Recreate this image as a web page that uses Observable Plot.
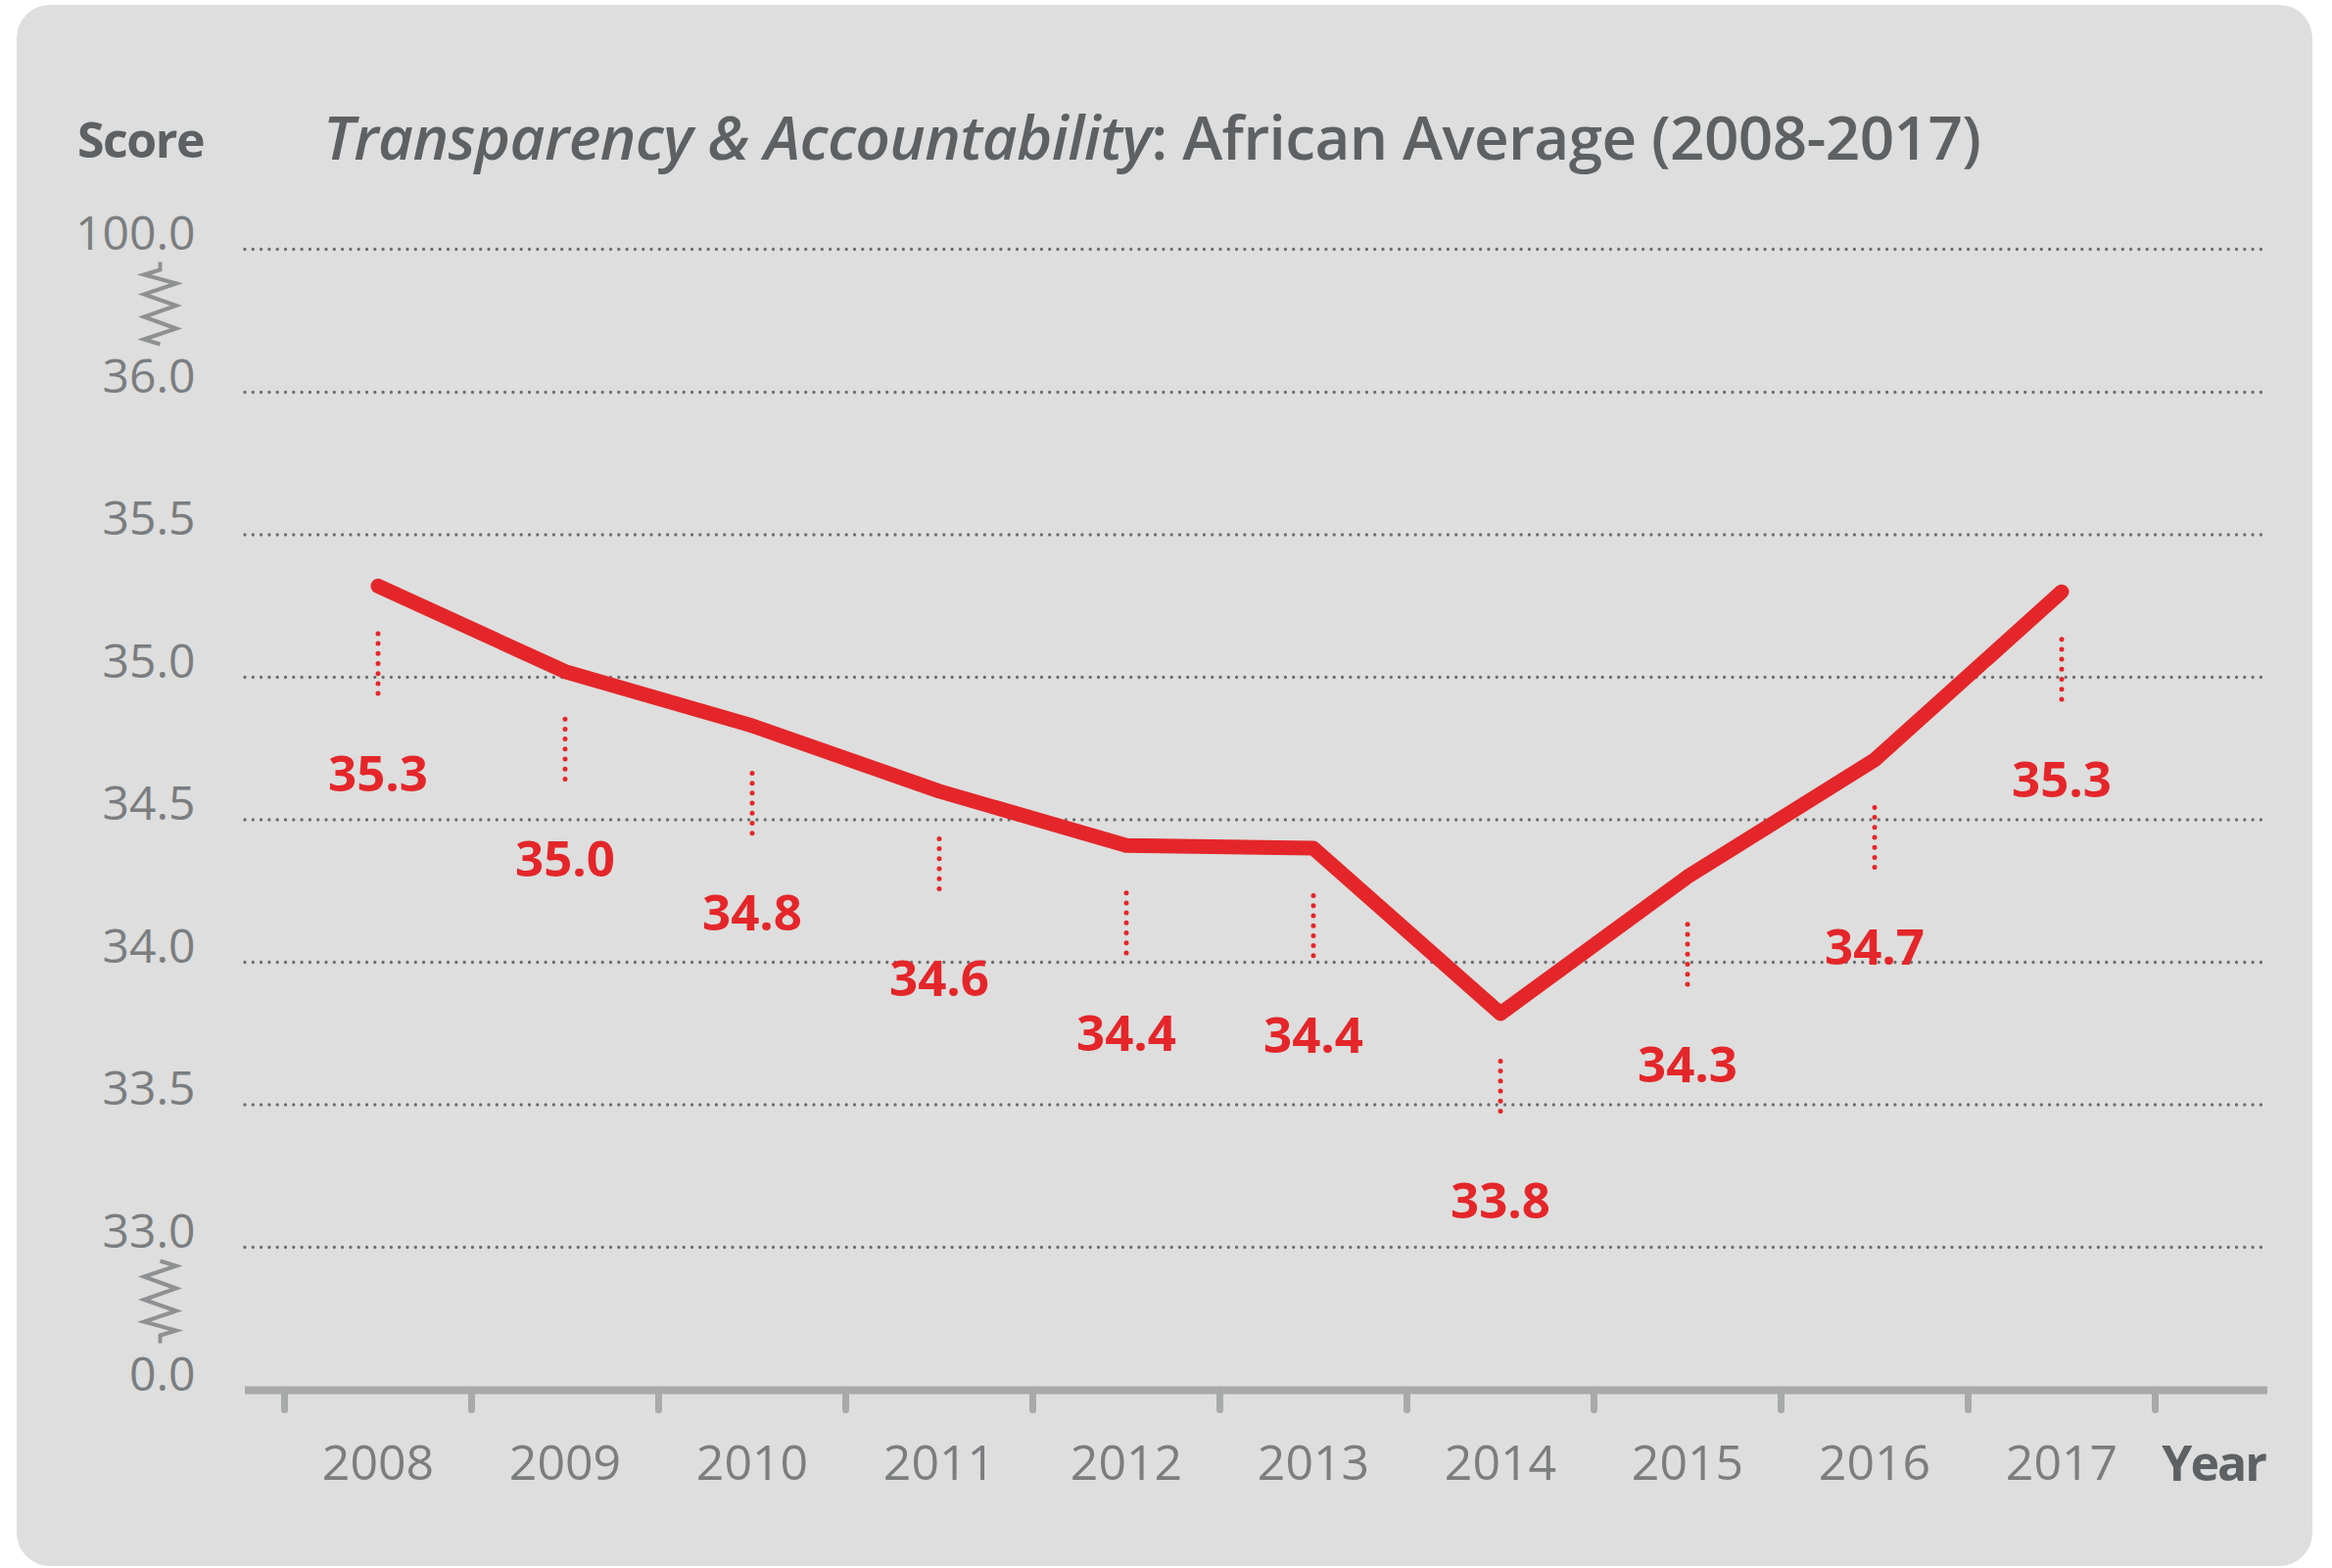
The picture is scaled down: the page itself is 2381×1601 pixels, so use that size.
<!DOCTYPE html>
<html><head><meta charset="utf-8">
<script src="https://cdn.jsdelivr.net/npm/d3@7"></script>
<script src="https://cdn.jsdelivr.net/npm/@observablehq/plot@0.6"></script>
<style>
html,body{margin:0;padding:0;background:#fff;}
#wrap{position:relative;width:2381px;height:1601px;overflow:hidden;font-family:"Open Sans",sans-serif;}
#panel{position:absolute;left:17px;top:5px;width:2344px;height:1594px;border-radius:34px;background:#dddedd;}
#chart{position:absolute;left:0;top:0;}
.lbl{position:absolute;white-space:nowrap;line-height:1;color:#5e6163;}
</style></head><body>
<div id="wrap">
<div id="panel"></div>
<div id="chart"></div>
<div class="lbl" id="title" style="left:330px;top:108px;font-size:62px;font-weight:600;letter-spacing:-0.6px;"><i>Transparency &amp; Accountability</i>: African Average (2008-2017)</div>
<div class="lbl" id="score" style="left:79px;top:117px;font-size:50px;font-weight:700;letter-spacing:-1.5px;">Score</div>
<div class="lbl" id="year" style="right:68px;top:1468px;font-size:50px;font-weight:700;letter-spacing:-2px;">Year</div>
</div>
<script>
// ---- data ----
const years = [2008, 2009, 2010, 2011, 2012, 2013, 2014, 2015, 2016, 2017];
const scores = [35.32, 35.02, 34.83, 34.60, 34.41, 34.40, 33.82, 34.30, 34.71, 35.30];
const yTickValues = [0, 33, 33.5, 34, 34.5, 35, 35.5, 36, 100];
const gridValues = [33, 33.5, 34, 34.5, 35, 35.5, 36, 100];
const yBreakDomain = [0, 33, 36, 100];
const breakUpper = [68];   // break between 36 and 100
const breakLower = [16.5]; // break between 0 and 33

const RED = "#e4262a";
const AXIS = "#a7a9aa";
const TICKTXT = "#7b7d7f";

const table = years.map((year, i) => ({year, score: scores[i]}));
const edges = years.map(y => y - 0.5).concat([years[years.length - 1] + 0.5]);

// zigzag axis-break symbols
const zigPts = [[0,-42],[0,-34],[-16.5,-29],[16.5,-20],[-16.5,-9],[16.5,2.5],[-16.5,14],[16.5,26],[-16.5,37],[0,42]];
function zigSymbol(sign) {
  return {draw(ctx) {
    zigPts.forEach(([px, py], k) => {
      const X = sign * px, Y = sign * py;
      if (k === 0) ctx.moveTo(X, Y); else ctx.lineTo(X, Y);
    });
  }};
}

const chart = Plot.plot({
  width: 2381,
  height: 1601,
  marginLeft: 250,
  marginRight: 66,
  marginTop: 254,
  marginBottom: 182,
  style: {background: "transparent", fontFamily: "Open Sans", overflow: "visible"},
  x: {type: "linear", domain: [years[0] - 0.5, years[years.length - 1] + 0.5], range: [290, 2200], axis: null},
  y: {type: "linear", domain: yBreakDomain, range: [1419, 1273, 400, 254], axis: null},
  marks: [
    Plot.ruleY(gridValues, {y: d => d, stroke: "#6b6d6f", strokeWidth: 3.3, strokeDasharray: "0 8.3", strokeLinecap: "round"}),
    Plot.ruleX(edges, {x: d => d, y1: 0, y2: 0, insetTop: 0, insetBottom: -20.5, stroke: AXIS, strokeWidth: 7, strokeLinecap: "round"}),
    Plot.ruleY([0], {y: d => d, stroke: AXIS, strokeWidth: 8}),
    Plot.dot(breakUpper, {y: d => d, frameAnchor: "left", dx: -87, dy: -18, symbol: zigSymbol(1), r: 10, fill: "none", stroke: "#8e9092", strokeWidth: 4}),
    Plot.dot(breakLower, {y: d => d, frameAnchor: "left", dx: -87, dy: -17, symbol: zigSymbol(-1), r: 10, fill: "none", stroke: "#8e9092", strokeWidth: 4}),
    Plot.text(yTickValues, {y: d => d, frameAnchor: "left", dx: -51, dy: -15, textAnchor: "end", lineAnchor: "middle", text: d => d.toFixed(1), fontSize: 48, fill: TICKTXT}),
    Plot.text(years, {x: d => d, frameAnchor: "bottom", lineAnchor: "middle", dy: 75, text: d => String(d), fontSize: 50, fill: TICKTXT}),
    Plot.ruleX(table, {x: "year", y1: "score", y2: "score", insetTop: 49, insetBottom: -110.2, stroke: RED, strokeWidth: 5, strokeDasharray: "0 10.2", strokeLinecap: "round"}),
    Plot.line(table, {x: "year", y: "score", stroke: RED, strokeWidth: 15, strokeLinecap: "round", strokeLinejoin: "round"}),
    Plot.text(table, {x: "year", y: "score", dy: 193, lineAnchor: "middle", text: d => d.score.toFixed(1), fill: RED, fontSize: 51, fontWeight: 700, letterSpacing: -1})
  ]
});
document.getElementById("chart").appendChild(chart);
</script>
</body></html>
